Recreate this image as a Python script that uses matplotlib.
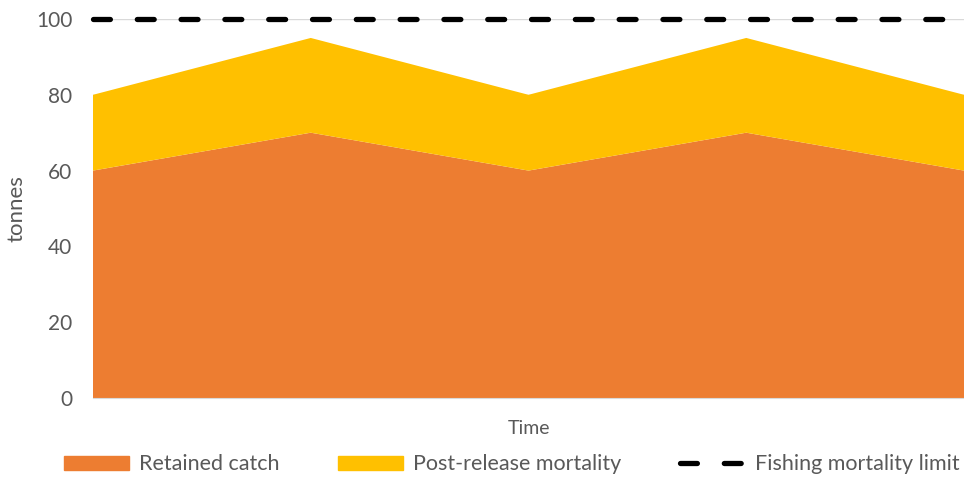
import matplotlib.pyplot as plt
from matplotlib.patches import Patch
from matplotlib.lines import Line2D

plt.rcParams['font.family'] = ['Lato', 'DejaVu Sans']

# values
time_points = [0, 1, 2, 3, 4]
retained_catch = [60, 70, 60, 70, 60]
post_release = [20, 25, 20, 25, 20]
limit = 100
y_ticks = [0, 20, 40, 60, 80, 100]

orange = '#ED7D31'
yellow = '#FFC000'
grey = '#595959'
dash = (0, (3.2, 5.1))

fig = plt.figure(figsize=(9.64, 4.84), dpi=100)
ax = fig.add_axes([93 / 964, 1 - 398 / 484, 1 - 93 / 964, (398 - 19) / 484])

ax.stackplot(time_points, retained_catch, post_release,
             colors=[orange, yellow], linewidth=0, zorder=2)
ax.axhline(limit, color='black', lw=3.8, ls=dash,
           dash_capstyle='round', clip_on=False, zorder=3)

ax.set_xlim(time_points[0], time_points[-1])
ax.set_ylim(0, 100)
ax.set_yticks(y_ticks)
ax.set_xticks([])
ax.yaxis.grid(True, color='#D9D9D9', lw=1, zorder=0)
ax.set_axisbelow(True)

for s in ['top', 'right', 'left']:
    ax.spines[s].set_visible(False)
ax.spines['bottom'].set_color('#D9D9D9')
ax.tick_params(axis='y', length=0, labelsize=15, labelcolor=grey, pad=15)

ax.set_ylabel('tonnes', fontsize=16, color=grey, labelpad=7)
ax.set_xlabel('Time', fontsize=14, color=grey, labelpad=16)

handles = [Patch(color=orange, label='Retained catch'),
           Patch(color=yellow, label='Post-release mortality'),
           Line2D([], [], color='black', lw=3.8, ls=dash,
                  dash_capstyle='round', label='Fishing mortality limit')]
fig.legend(handles=handles, loc='lower center', ncol=3, frameon=False,
           fontsize=15.5, labelcolor=grey, bbox_to_anchor=(0.531, -0.02),
           handlelength=3.0, handleheight=0.6, columnspacing=2.75,
           handletextpad=0.47)

fig.savefig('out.png', dpi=100)
